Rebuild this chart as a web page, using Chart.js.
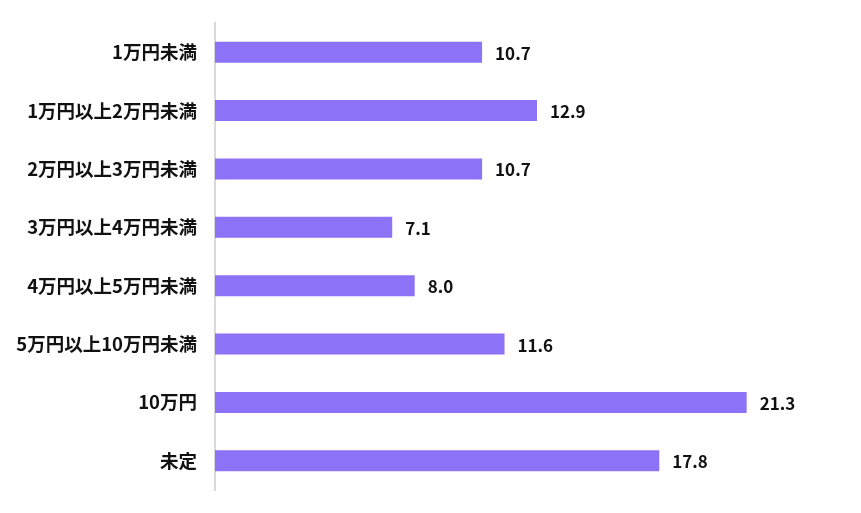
<!DOCTYPE html>
<html>
<head>
<meta charset="utf-8">
<script src="https://cdn.jsdelivr.net/npm/chart.js@4/dist/chart.umd.min.js"></script>
<style>
  body { margin: 0; background: #fff; }
  #wrap { width: 861px; height: 513px; }
</style>
</head>
<body>
<div id="wrap"><canvas id="myChart" width="861" height="513"></canvas></div>
<script>
var categories = ["1万円未満", "1万円以上2万円未満", "2万円以上3万円未満", "3万円以上4万円未満", "4万円以上5万円未満", "5万円以上10万円未満", "10万円", "未定"];
var values = [10.7, 12.9, 10.7, 7.1, 8.0, 11.6, 21.3, 17.8];
var xMax = 25;

var fontFam = "'Noto Sans CJK JP', 'Noto Sans', sans-serif";

// draw value labels next to the bar ends
var valueLabels = {
  id: "valueLabels",
  afterDatasetsDraw: function(chart) {
    var ctx = chart.ctx;
    var meta = chart.getDatasetMeta(0);
    ctx.save();
    ctx.font = "bold 17px " + fontFam;
    ctx.fillStyle = "#111";
    ctx.textAlign = "left";
    ctx.textBaseline = "middle";
    meta.data.forEach(function(bar, i) {
      ctx.fillText(values[i].toFixed(1), bar.x + 13, bar.y + 1);
    });
    ctx.restore();
  }
};

const myChart = new Chart("myChart", {
  type: "bar",
  data: {
    labels: categories,
    datasets: [{
      data: values,
      backgroundColor: "#8b72f6",
      categoryPercentage: 1,
      barPercentage: 0.36
    }]
  },
  options: {
    indexAxis: "y",
    responsive: false,
    animation: false,
    layout: { padding: { top: 23, bottom: 23, right: 22, left: 0 } },
    plugins: { legend: { display: false }, tooltip: { enabled: false } },
    scales: {
      x: { display: false, min: 0, max: xMax },
      y: {
        grid: { display: false, drawTicks: false },
        border: { display: true, color: "#d9d9d9", width: 2 },
        ticks: {
          padding: 18,
          color: "#111",
          font: { family: fontFam, size: 18.5, weight: "bold" }
        },
        afterFit: function(scale) {
          scale.width = 215;
          scale.paddingTop = 0;
          scale.paddingBottom = 0;
        }
      }
    }
  },
  plugins: [valueLabels]
});
</script>
</body>
</html>
